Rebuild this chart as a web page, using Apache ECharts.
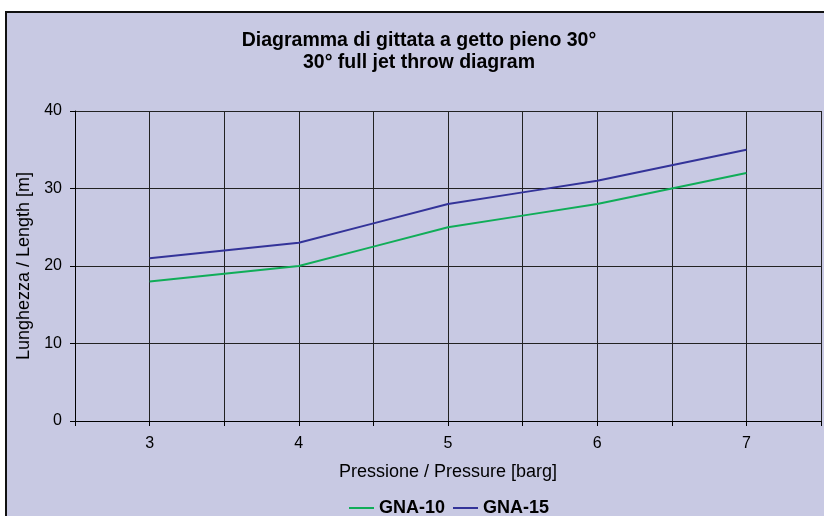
<!DOCTYPE html>
<html>
<head>
<meta charset="utf-8">
<script src="https://cdn.jsdelivr.net/npm/echarts@6/dist/echarts.min.js"></script>
<style>
  html, body { margin: 0; padding: 0; background: #fff; }
  #chart { width: 824px; height: 516px; }
</style>
</head>
<body>
<div id="chart"></div>
<script>
  // pressure [barg]
  const pressure = [3, 3.5, 4, 4.5, 5, 5.5, 6, 6.5, 7];
  // throw length [m]
  const gna10 = [18, 19, 20, 22.5, 25, 26.5, 28, 30, 32];
  const gna15 = [21, 22, 23, 25.5, 28, 29.5, 31, 33, 35];
  const seriesNames = ['GNA-10', 'GNA-15'];

  const font = 'Arial, "Liberation Sans", sans-serif';
  const chart = echarts.init(document.getElementById('chart'));

  const option = {
    backgroundColor: '#ffffff',
    animation: false,
    graphic: [
      {
        type: 'rect',
        z: -10,
        shape: { x: 6, y: 12, width: 830, height: 520 },
        style: { fill: '#c8c9e3', stroke: '#111', lineWidth: 2 },
      },
    ],
    title: {
      text: 'Diagramma di gittata a getto pieno 30°\n30° full jet throw diagram',
      left: 414,
      textAlign: 'center',
      top: 25,
      textStyle: {
        fontFamily: font,
        fontSize: 19.5,
        fontWeight: 'bold',
        color: '#000',
        lineHeight: 22,
      },
    },
    legend: {
      data: seriesNames,
      top: 494,
      left: 344,
      itemWidth: 25,
      itemHeight: 2,
      itemGap: 8,
      icon: 'rect',
      textStyle: {
        fontFamily: font,
        fontSize: 18,
        fontWeight: 'bold',
        color: '#000',
      },
    },
    grid: {
      left: 75,
      right: 2,
      top: 111,
      bottom: 95,
      containLabel: false,
    },
    xAxis: {
      type: 'value',
      min: 2.5,
      max: 7.5,
      interval: 0.5,
      name: 'Pressione / Pressure [barg]',
      nameLocation: 'middle',
      nameGap: 42,
      nameTextStyle: { fontFamily: font, fontSize: 18, color: '#000' },
      axisLine: { lineStyle: { color: '#000', width: 1 } },
      axisTick: { show: true, length: 5, inside: false, lineStyle: { color: '#000' } },
      axisLabel: {
        fontFamily: font,
        fontSize: 16,
        color: '#000',
        margin: 15,
        formatter: (v) => (Number.isInteger(v) ? String(v) : ''),
      },
      splitLine: { show: true, lineStyle: { color: '#222', width: 1 } },
    },
    yAxis: {
      type: 'value',
      min: 0,
      max: 40,
      interval: 10,
      name: 'Lunghezza / Length [m]',
      nameLocation: 'middle',
      nameGap: 37,
      nameTextStyle: { fontFamily: font, fontSize: 18, color: '#000' },
      axisLine: { show: true, lineStyle: { color: '#000', width: 1 } },
      axisTick: { show: true, length: 5, lineStyle: { color: '#000' } },
      axisLabel: { fontFamily: font, fontSize: 16, color: '#000', margin: 13 },
      splitLine: { show: true, lineStyle: { color: '#222', width: 1 } },
    },
    series: [
      {
        name: seriesNames[0],
        type: 'line',
        data: pressure.map((p, i) => [p, gna10[i]]),
        showSymbol: false,
        symbol: 'none',
        lineStyle: { color: '#10ad58', width: 2 },
        itemStyle: { color: '#10ad58' },
      },
      {
        name: seriesNames[1],
        type: 'line',
        data: pressure.map((p, i) => [p, gna15[i]]),
        showSymbol: false,
        symbol: 'none',
        lineStyle: { color: '#333399', width: 2 },
        itemStyle: { color: '#333399' },
      },
    ],
  };

  chart.setOption(option);
</script>
</body>
</html>
